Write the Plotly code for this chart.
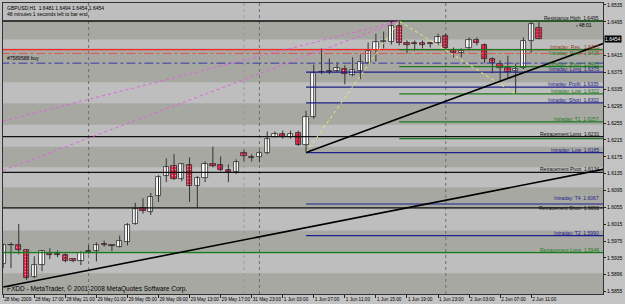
import plotly.graph_objects as go

# ---------------- data ----------------
opens = [1.5920,1.5965,1.5967,1.5953,1.5890,1.5918,1.5948,1.5944,1.5941,1.5932,
         1.5927,1.5951,1.5951,1.5969,1.5965,1.5962,1.5974,1.6016,1.6054,1.6044,
         1.6082,1.6129,1.6152,1.6122,1.6155,1.6105,1.6124,1.6159,1.6155,1.6143,
         1.6138,1.6185,1.6174,1.6174,1.6183,1.6223,1.6230,1.6221,1.6232,1.6202,
         1.6270,1.6376,1.6378,1.6378,1.6383,1.6368,1.6378,1.6397,1.6429,1.6448,
         1.6448,1.6486,1.6444,1.6444,1.6446,1.6444,1.6444,1.6462,1.6429,1.6420,
         1.6432,1.6453,1.6441,1.6406,1.6394,1.6385,1.6378,1.6385,1.6450,1.6481]
highs = [1.5969,1.5972,1.6016,1.5955,1.5939,1.5953,1.5958,1.5953,1.5946,1.5934,
         1.5951,1.5965,1.5972,1.5976,1.5967,1.5988,1.6018,1.6066,1.6077,1.6089,
         1.6131,1.6171,1.6181,1.6159,1.6174,1.6129,1.6164,1.6199,1.6176,1.6157,
         1.6169,1.6192,1.6181,1.6190,1.6235,1.6235,1.6237,1.6237,1.6237,1.6284,
         1.6394,1.6432,1.6408,1.6399,1.6392,1.6411,1.6418,1.6446,1.6467,1.6472,
         1.6495,1.6497,1.6451,1.6451,1.6451,1.6446,1.6467,1.6467,1.6434,1.6432,
         1.6458,1.6458,1.6444,1.6411,1.6404,1.6415,1.6397,1.6458,1.6496,1.6494]
lows = [1.5911,1.5911,1.5944,1.5883,1.5887,1.5904,1.5932,1.5937,1.5925,1.5925,
        1.5918,1.5944,1.5927,1.5962,1.5951,1.5960,1.5965,1.6014,1.6040,1.6037,
        1.6068,1.6115,1.6120,1.6117,1.6068,1.6054,1.6115,1.6150,1.6141,1.6115,
        1.6134,1.6164,1.6164,1.6162,1.6181,1.6221,1.6218,1.6218,1.6201,1.6185,
        1.6265,1.6371,1.6371,1.6376,1.6347,1.6366,1.6359,1.6394,1.6401,1.6432,
        1.6441,1.6439,1.6420,1.6427,1.6432,1.6434,1.6439,1.6429,1.6411,1.6411,
        1.6427,1.6439,1.6397,1.6373,1.6352,1.6361,1.6324,1.6383,1.6422,1.6454]
closes = [1.5965,1.5966,1.5955,1.5887,1.5918,1.5951,1.5941,1.5943,1.5929,1.5927,
          1.5948,1.5950,1.5967,1.5965,1.5964,1.5976,1.6014,1.6052,1.6047,1.6080,
          1.6127,1.6150,1.6122,1.6157,1.6105,1.6124,1.6159,1.6152,1.6143,1.6138,
          1.6162,1.6176,1.6173,1.6183,1.6218,1.6228,1.6221,1.6230,1.6202,1.6270,
          1.6373,1.6375,1.6377,1.6385,1.6371,1.6380,1.6399,1.6427,1.6448,1.6450,
          1.6486,1.6444,1.6439,1.6443,1.6441,1.6443,1.6460,1.6432,1.6420,1.6427,
          1.6453,1.6444,1.6406,1.6397,1.6385,1.6376,1.6383,1.6450,1.6490,1.6454]

time_labels = ["28 May 2009", "28 May 17:00", "28 May 21:00", "29 May 01:00", "29 May 05:00",
               "29 May 09:00", "29 May 13:00", "29 May 17:00", "31 May 23:00", "1 Jun 03:00",
               "1 Jun 07:00", "1 Jun 11:00", "1 Jun 15:00", "1 Jun 19:00", "1 Jun 23:00",
               "2 Jun 03:00", "2 Jun 07:00", "2 Jun 11:00"]
label_every = 4

price_ticks = [1.6535, 1.6495, 1.6415, 1.6375, 1.6335, 1.6295, 1.6255, 1.6215, 1.6175,
               1.6135, 1.6095, 1.6055, 1.6015, 1.5975, 1.5935, 1.5896, 1.5855]
current_price = 1.6454

# shaded price zones (dark bands)
zone_low = [1.6453, 1.6352, 1.6251, 1.6150, 1.6052, 1.5951, 1.5800]
zone_high = [1.6497, 1.6432, 1.6302, 1.6199, 1.6103, 1.6000, 1.5899]

# level lines
retrace_black = [1.6497, 1.6223, 1.6138, 1.6054]
retrace_green = [1.5948]
order_red = [1.6429]
order_red_dd = [1.6420]
order_blue_dd = [1.6397]
intraday_navy = [1.6376, 1.6340, 1.6303, 1.6185, 1.6063, 1.5988]
intraday_navy_from = 39
intraday_green = [1.6497, 1.6429, 1.6389, 1.6324, 1.6258, 1.6218]
intraday_green_from = 51

label_prices = [1.6497, 1.6429, 1.6413, 1.6389, 1.6376, 1.6340, 1.6324, 1.6303, 1.6258,
                1.6223, 1.6185, 1.6138, 1.6063, 1.6054, 1.5988, 1.5948]
label_texts = ["Resistance High  1.6495", "Intraday: Res.  1.6435", "Intraday: Pivot  1.6415",
               "Intraday: Short  1.6405", "Intraday: Long  1.6375", "Intraday: Profit  1.6335",
               "Intraday: Low  1.6322", "Intraday: Short  1.6302", "Intraday: T1  1.6257",
               "Retracement Long  1.6231", "Intraday: Low  1.6185", "Retracement Pivot  1.6134",
               "Intraday: T4  1.6067", "Retracement Short  1.6061", "Intraday: T2  1.5990",
               "Retracement Long  1.5946"]
label_kinds = ["black", "brown", "green", "green", "navy", "navy", "green", "navy", "green",
               "black", "navy", "black", "navy", "black", "navy", "green"]
label_shift = [-2, -2, -2, -2, -2, -2, -2, -2, -2, -2, -2, -2, 1, -5, -2, -2]

# drawn objects (time index, price)
trend_lower = ([0, 80], [1.5866, 1.6155])
trend_upper = ([39, 80], [1.6185, 1.6462])
pink_a = ([0, 51], [1.6260, 1.6497])
pink_b = ([0, 51], [1.6143, 1.6497])
zigzag = ([39, 51, 66], [1.6185, 1.6497, 1.6324])
separators = [11, 33, 57]
week_sep = [31]

# ---------------- figure ----------------
n = len(opens)
idx = list(range(n))
colors = {"black": "#111111", "brown": "#8B3A1A", "green": "#1E7A1E", "navy": "#1E1E8A"}

fig = go.Figure()

# wicks
wx, wy = [], []
for i in idx:
    wx += [i, i, None]
    wy += [lows[i], highs[i], None]
fig.add_trace(go.Scatter(x=wx, y=wy, mode="lines", line=dict(color="#333333", width=1),
                         hoverinfo="skip", showlegend=False))

up = [c >= o for o, c in zip(opens, closes)]
fig.add_trace(go.Bar(
    x=idx, base=[min(o, c) for o, c in zip(opens, closes)],
    y=[max(abs(c - o), 0.00003) for o, c in zip(opens, closes)],
    width=0.68,
    marker=dict(color=["#FFFFFF" if u else "#EE1A40" for u in up],
                line=dict(color="#2a2a2a", width=0.8),
                pattern=dict(shape=["" if u else "." for u in up], fgcolor="#7a0a20",
                             size=3, solidity=0.25)),
    hoverinfo="skip", showlegend=False))

XR = [-0.03, 77.25]
XEND = 90

def hline(p, x0, color, dash="solid", width=1):
    fig.add_trace(go.Scatter(x=[x0, XEND], y=[p, p], mode="lines",
                             line=dict(color=color, width=width, dash=dash),
                             hoverinfo="skip", showlegend=False))

for p in retrace_black:
    hline(p, -5, "#111111", width=1.3)
for p in retrace_green:
    hline(p, -5, "#1E7A1E", width=1.3)
for p in order_red:
    hline(p, -5, "#FF2222", width=1.2)
for p in order_red_dd:
    hline(p, -5, "#E05555", dash="dashdot")
for p in order_blue_dd:
    hline(p, -5, "#3A3AA8", dash="dashdot")
for p in intraday_navy:
    hline(p, intraday_navy_from, "#1E1E8A", width=1.2)
for p in intraday_green:
    hline(p, intraday_green_from, "#1E7A1E", width=1.2)

for (xs, ys), col, dash, w in [(pink_a, "#E060E0", "dot", 1), (pink_b, "#E060E0", "dot", 1),
                               (zigzag, "#EDED70", "dot", 1),
                               (trend_lower, "#000000", "solid", 1.6),
                               (trend_upper, "#000000", "solid", 1.6)]:
    fig.add_trace(go.Scatter(x=xs, y=ys, mode="lines", line=dict(color=col, width=w, dash=dash),
                             hoverinfo="skip", showlegend=False))

shapes = []
for lo, hi in zip(zone_low, zone_high):
    shapes.append(dict(type="rect", xref="paper", x0=0, x1=1, yref="y", y0=lo, y1=hi,
                       fillcolor="#A8A8A3", line=dict(width=0), layer="below"))
for s in separators:
    shapes.append(dict(type="line", xref="x", x0=s, x1=s, yref="paper", y0=0, y1=1,
                       line=dict(color="#6E6E6E", width=1, dash="dot"), layer="below"))
for s in week_sep:
    shapes.append(dict(type="line", xref="x", x0=s, x1=s, yref="paper", y0=0, y1=1,
                       line=dict(color="#9A9A9A", width=1, dash="dot"), layer="below"))

F = "Liberation Sans, Arial, sans-serif"
ann = []
for p, t, k, ys in zip(label_prices, label_texts, label_kinds, label_shift):
    ann.append(dict(xref="paper", x=0.997, xanchor="right", yref="y", y=p, yanchor="bottom",
                    yshift=ys, text=t, showarrow=False, font=dict(size=5, color=colors[k], family=F)))
ann.append(dict(xref="paper", x=0.004, xanchor="left", yref="paper", y=1, yanchor="top",
                text="GBPUSD,H1  %.4f %.4f %.4f %.4f" % (opens[-1], highs[-1], lows[-1], closes[-1]),
                showarrow=False, font=dict(size=5, color="#000", family=F)))
ann.append(dict(xref="paper", x=0.004, xanchor="left", yref="paper", y=1, yanchor="top", yshift=-6,
                text="48 minutes 1 seconds left to bar end", showarrow=False,
                font=dict(size=5, color="#000", family=F)))
ann.append(dict(xref="paper", x=0.004, xanchor="left", yref="y", y=order_blue_dd[0], yanchor="bottom",
                text="#7589588 buy", showarrow=False, font=dict(size=5, color="#000", family=F)))
ann.append(dict(xref="paper", x=0.985, xanchor="right", yref="y", y=1.6488, yanchor="middle",
                text="‹ 48:01", showarrow=False, font=dict(size=5, color="#000", family=F)))
ann.append(dict(xref="paper", x=0.003, xanchor="left", yref="paper", y=0, yanchor="bottom", yshift=-1,
                text="FXDD - MetaTrader, © 2001-2008 MetaQuotes Software Corp.", showarrow=False,
                font=dict(size=6.5, color="#000", family=F)))
ann.append(dict(xref="paper", x=1, xanchor="left", xshift=1, yref="y", y=current_price, yanchor="middle",
                text="%.4f" % current_price, showarrow=False, bgcolor="#000000", borderpad=0,
                font=dict(size=5, color="#FFFFFF", family=F)))

fig.update_layout(
    width=625, height=304, margin=dict(l=2, r=18, t=2, b=8),
    paper_bgcolor="#C3C3C3", plot_bgcolor="#BEBEBE",
    barmode="overlay", bargap=0, shapes=shapes, annotations=ann, showlegend=False,
    hovermode=False,
    xaxis=dict(range=XR, showgrid=False, zeroline=False, showline=True, linecolor="#333",
               mirror=True, linewidth=1, tickangle=0,
               tickvals=[i * label_every for i in range(len(time_labels))], ticktext=time_labels,
               ticks="outside", ticklen=3, tickcolor="#222", ticklabelposition="outside right",
               tickfont=dict(size=4.7, color="#000", family=F)),
    yaxis=dict(range=[1.58496, 1.65397], side="right", showgrid=False, zeroline=False,
               showline=True, linecolor="#333", mirror=True, linewidth=1,
               tickvals=price_ticks, ticktext=["%.4f" % v for v in price_ticks],
               ticks="outside", ticklen=2, tickcolor="#222",
               tickfont=dict(size=5, color="#000", family=F)),
)

fig.write_html("out.html", include_plotlyjs=True, config={"displayModeBar": False})
